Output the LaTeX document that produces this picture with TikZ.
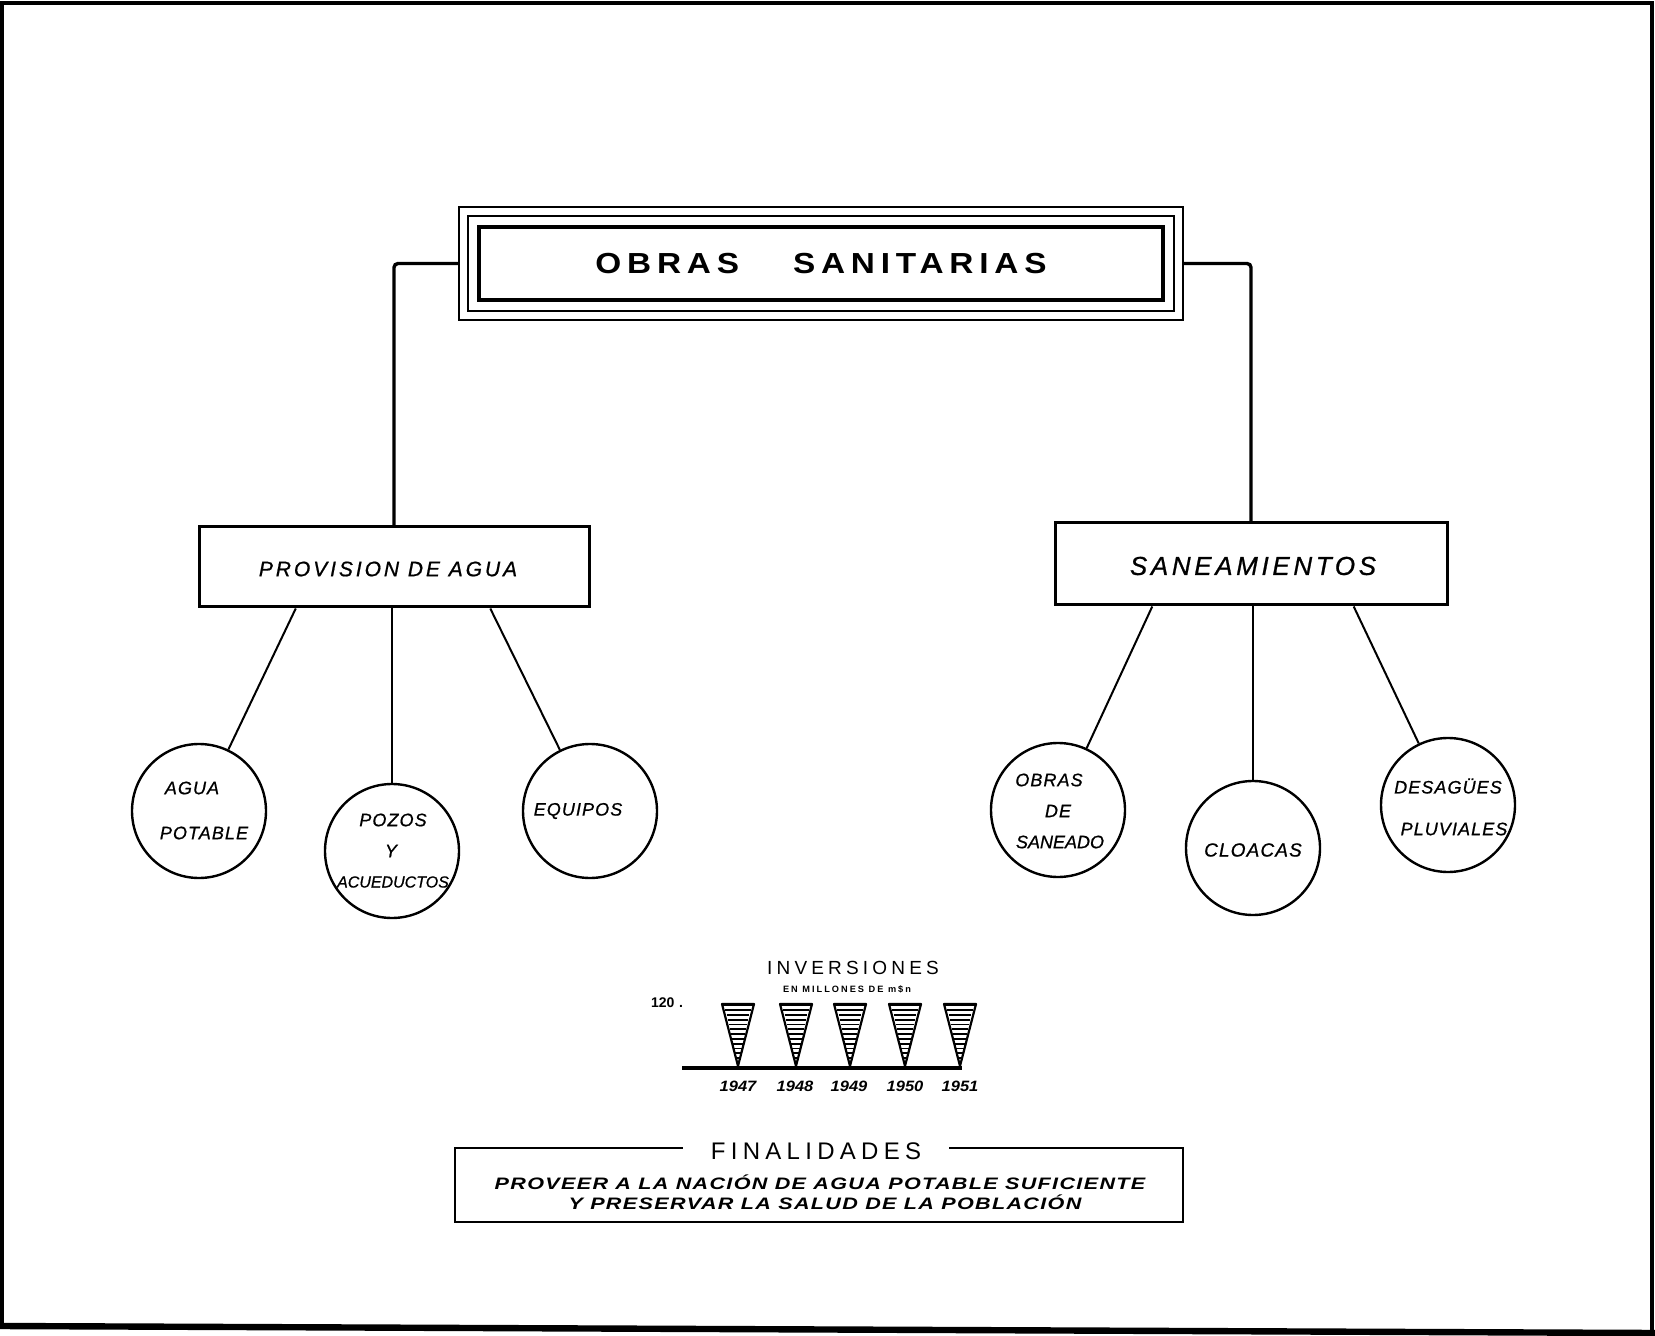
\documentclass[tikz,border=0pt]{standalone}
\usepackage{fontspec}
\setmainfont{Liberation Sans}
\newfontfamily\handA[LetterSpace=6,FakeBold=0.8]{Liberation Sans}
\newfontfamily\handB[LetterSpace=14,FakeBold=0.8]{Liberation Sans}
\newfontfamily\titlefont[LetterSpace=20,FakeStretch=1.15]{Liberation Sans}
\newfontfamily\spacedfont[LetterSpace=22]{Liberation Sans}
\newfontfamily\widefont[FakeStretch=1.3,LetterSpace=8]{Liberation Sans}
\newfontfamily\yearfont[FakeStretch=1.1]{Liberation Sans}
\usetikzlibrary{calc}
\tikzset{
  frameline/.style={line width=2.2pt},
  thickbox/.style={draw, line width=2pt, inner sep=0pt},
  thinline/.style={line width=1pt},
  trunk/.style={line width=1.7pt, rounded corners=2pt},
  midbox/.style={draw, line width=1.5pt, inner sep=0pt},
  circ/.style={draw, circle, line width=1.2pt, minimum size=67pt, inner sep=0pt},
  leg/.style={line width=1pt},
  ctext/.style={inner sep=0pt, font=\handA\itshape\fontsize{9}{10}\selectfont},
  boxtext/.style={inner sep=0pt, font=\handB\itshape\fontsize{10.5}{12}\selectfont},
  conel/.style={line width=1.1pt, line join=round},
  hatch/.style={line width=0.9pt},
  yeartext/.style={inner sep=0pt, font=\yearfont\bfseries\itshape\fontsize{7.5}{8}\selectfont},
}
\begin{document}
\begin{tikzpicture}[x=0.5pt,y=-0.5pt]
\useasboundingbox (0,0) rectangle (1655,1336);
% frame
\draw[frameline] (2,1327) -- (2,3) -- (1652,3) -- (1652,1333);
\draw[line width=3.2pt] (0,1326) -- (1655,1333);

% title
\node[thickbox, minimum width=342pt, minimum height=36.5pt] (tin) at (821,263.5)
  {\titlefont\bfseries\fontsize{14.5}{16}\selectfont OBRAS\hspace{27pt}SANITARIAS};
\draw[thinline] ($(tin.north west)+(-9,-9)$) rectangle ($(tin.south east)+(9,9)$);
\coordinate (toutw) at ($(tin.west)+(-18,0)$);
\coordinate (toute) at ($(tin.east)+(18,0)$);
\draw[thinline] ($(tin.north west)+(-18,-18)$) rectangle ($(tin.south east)+(18,18)$);

% level 2
\node[midbox, minimum width=195pt, minimum height=40pt] (prov) at (394,567) {};
\node[boxtext] (provt) at (388,569) {PROVISION DE AGUA};
\node[midbox, minimum width=196pt, minimum height=41pt] (sane) at (1251,564) {};
\node[boxtext, font=\handB\itshape\fontsize{13}{14}\selectfont] (sanet) at (1253,566) {SANEAMIENTOS};

\draw[trunk] (toutw) -| (prov.north);
\draw[trunk] (toute) -| (sane.north);

% circles
\node[circ] (c1) at (199,811) {};
\node[circ] (c2) at (392,851) {};
\node[circ] (c3) at (590,811) {};
\node[circ] (c4) at (1058,810) {};
\node[circ] (c5) at (1253,848) {};
\node[circ] (c6) at (1448,805) {};

\node[ctext] (c1a) at (192,788) {AGUA};
\node[ctext] (c1b) at (204,833) {POTABLE};
\node[ctext] (c2a) at (393,820) {POZOS};
\node[ctext] (c2b) at (391,851) {Y};
\node[ctext, font=\handA\addfontfeatures{LetterSpace=0}\itshape\fontsize{8}{9}\selectfont] (c2c) at (393,882) {ACUEDUCTOS};
\node[ctext] (c3a) at (578,811) {EQUIPOS};
\node[ctext] (c4a) at (1049,780) {OBRAS};
\node[ctext] (c4b) at (1058,811) {DE};
\node[ctext, font=\handA\addfontfeatures{LetterSpace=0}\itshape\fontsize{9}{10}\selectfont] (c4c) at (1060,842) {SANEADO};
\node[ctext, font=\handA\itshape\fontsize{9.5}{10}\selectfont] (c5a) at (1253,850) {CLOACAS};
\node[ctext] (c6a) at (1448,786) {DESAGÜES};
\node[ctext] (c6b) at (1454,829) {PLUVIALES};

\draw[leg] ($(prov.south west)!0.25!(prov.south east)$) -- (c1);
\draw[leg] (prov.south -| c2) -- (c2);
\draw[leg] ($(prov.south west)!0.745!(prov.south east)$) -- (c3);
\draw[leg] ($(sane.south west)!0.25!(sane.south east)$) -- (c4);
\draw[leg] (sane.south -| c5) -- (c5);
\draw[leg] ($(sane.south west)!0.76!(sane.south east)$) -- (c6);

% chart
\node[inner sep=0pt, font=\spacedfont\fontsize{9.5}{10}\selectfont] (inv) at (853,968) {INVERSIONES};
\node[inner sep=0pt, font=\spacedfont\bfseries\fontsize{4.6}{5}\selectfont] (invs) at (847,989) {EN MILLONES DE m\$n};
\node[inner sep=0pt, font=\bfseries\fontsize{7}{8}\selectfont] (v120) at (667,1003) {120\,\,.};
\coordinate (bl) at (682,1068);
\coordinate (br) at (962,1068);
\draw[line width=1.6pt] (bl) -- (br);
\foreach \cx/\yr/\lx in {738/1947/738, 796/1948/795, 850/1949/849, 905/1950/905, 960/1951/960}{
  \draw[conel] (\cx-16,1004) -- (\cx+16,1004) -- (\cx,1066) -- cycle;
  \draw[line width=1.8pt] (\cx-16,1004.5) -- (\cx+16,1004.5);
  \foreach \k in {0,...,10}{
    \pgfmathsetmacro\yy{1010+\k*4.8}
    \pgfmathsetmacro\hw{14*(1064-\yy)/60}
    \draw[hatch] (\cx-\hw,\yy) -- (\cx+\hw,\yy);
  }
  \node[yeartext] (y\yr) at (\lx,1086) {\yr};
}

% finalidades
\node[draw, line width=1.3pt, minimum width=364pt, minimum height=37pt, inner sep=0pt] (fbox) at (819,1185) {};
\node[fill=white, inner xsep=14pt, inner ysep=2pt, font=\spacedfont\fontsize{12}{13}\selectfont] (ftit) at (816,1151) {FINALIDADES};
\node[inner sep=0pt, font=\widefont\bfseries\itshape\fontsize{8.3}{9}\selectfont] (fl1) at (820,1182) {PROVEER A LA NACIÓN DE AGUA POTABLE SUFICIENTE};
\node[inner sep=0pt, font=\widefont\bfseries\itshape\fontsize{8.3}{9}\selectfont] (fl2) at (825,1202) {Y PRESERVAR LA SALUD DE LA POBLACIÓN};
\end{tikzpicture}
\end{document}
